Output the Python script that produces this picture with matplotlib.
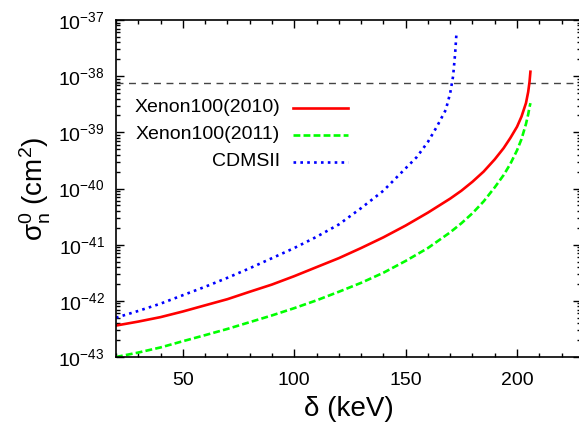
import matplotlib
matplotlib.use("Agg")
import matplotlib.pyplot as plt
import numpy as np
from matplotlib.ticker import MultipleLocator, LogLocator

plt.rcParams['font.family'] = ['Liberation Sans', 'DejaVu Sans']
plt.rcParams['mathtext.fontset'] = 'custom'
plt.rcParams['mathtext.rm'] = 'Liberation Sans'
plt.rcParams['mathtext.it'] = 'Liberation Sans:italic'

# Xenon100 (2010)
x_xe10 = [20, 30, 40, 50, 60, 70, 80, 90, 100, 110, 120, 130, 140, 150, 160, 170,
          175, 180, 185, 190, 194, 197, 200, 202, 204, 205, 205.6, 206]
y_xe10 = [3.63e-43, 4.27e-43, 5.13e-43, 6.46e-43, 8.32e-43, 1.07e-42, 1.45e-42,
          1.95e-42, 2.75e-42, 3.98e-42, 5.75e-42, 8.71e-42, 1.35e-41, 2.19e-41,
          3.72e-41, 6.61e-41, 9.12e-41, 1.32e-40, 2.0e-40, 3.31e-40, 5.25e-40,
          7.94e-40, 1.26e-39, 1.91e-39, 3.31e-39, 5.25e-39, 7.94e-39, 1.2e-38]

# Xenon100 (2011)
x_xe11 = [20, 30, 40, 50, 60, 70, 80, 90, 100, 110, 120, 130, 140, 150, 160, 170,
          175, 180, 185, 190, 194, 197, 200, 202, 204, 205, 205.6, 206]
y_xe11 = [1.0e-43, 1.2e-43, 1.48e-43, 1.91e-43, 2.45e-43, 3.16e-43, 4.17e-43,
          5.5e-43, 7.41e-43, 1.02e-42, 1.45e-42, 2.09e-42, 3.16e-42, 5.13e-42,
          8.71e-42, 1.66e-41, 2.4e-41, 3.63e-41, 5.89e-41, 1.05e-40, 1.74e-40,
          2.75e-40, 4.79e-40, 7.59e-40, 1.41e-39, 2.09e-39, 2.82e-39, 3.31e-39]

# CDMSII
x_cdms = [20, 30, 40, 50, 60, 70, 80, 90, 100, 110, 120, 130, 140, 150, 155, 160,
          164, 168, 170, 171.3, 172.2, 172.8]
y_cdms = [5.01e-43, 6.61e-43, 8.91e-43, 1.26e-42, 1.78e-42, 2.57e-42, 3.8e-42,
          5.75e-42, 8.71e-42, 1.38e-41, 2.29e-41, 4.47e-41, 9.12e-41, 2.29e-40,
          3.63e-40, 6.76e-40, 1.26e-39, 2.51e-39, 5.01e-39, 1.0e-38, 2.51e-38, 5.75e-38]

limit = 7.6e-39

fig = plt.figure(figsize=(5.79, 4.23), dpi=100)
ax = fig.add_axes([116/579, 66/423, 465/579, 337/423])

ax.axhline(limit, color='#444444', lw=1, dashes=(5, 4))
ax.plot(x_xe10, y_xe10, color='#ff0000', lw=1.9)
ax.plot(x_xe11, y_xe11, color='#00ff00', lw=1.9, dashes=(2.6, 1.2))
ax.plot(x_cdms, y_cdms, color='#0000ff', lw=1.9, dashes=(1, 1.6))

ax.set_yscale('log')
ax.set_xlim(20, 228.7)
ax.set_ylim(1e-43, 1e-37)
ax.xaxis.set_major_locator(MultipleLocator(50))
ax.xaxis.set_minor_locator(MultipleLocator(10))
ax.set_yticks(10.0 ** np.arange(-43, -36))
ax.yaxis.set_minor_locator(LogLocator(base=10, subs=np.arange(2, 10), numticks=20))
ax.tick_params(which='both', direction='in', top=True, right=True, labelsize=14, width=1)
ax.tick_params(which='major', length=6, pad=8)
ax.tick_params(axis='x', which='major', pad=11)
ax.tick_params(which='minor', length=3)
for s in ax.spines.values():
    s.set_linewidth(1.2)

ax.set_xlabel(r'δ (keV)', fontsize=20, labelpad=5)
ax.set_ylabel(r'$\mathregular{σ_n^0}$ (cm$\mathregular{^2}$)', fontsize=20, labelpad=4)

# legend, drawn by hand so the labels are right aligned
names = ['Xenon100(2010)', 'Xenon100(2011)', 'CDMSII']
styles = [dict(color='#ff0000'), dict(color='#00ff00', dashes=(2.6, 1.2)),
          dict(color='#0000ff', dashes=(1, 1.6))]
rows = [0.739, 0.659, 0.579]
for name, st, yy in zip(names, styles, rows):
    ax.text(0.353, yy, name, transform=ax.transAxes, ha='right', va='center', fontsize=14)
    ax.plot([0.381, 0.499], [yy, yy], transform=ax.transAxes, lw=1.9, **st)

fig.savefig('out.png', dpi=100)
